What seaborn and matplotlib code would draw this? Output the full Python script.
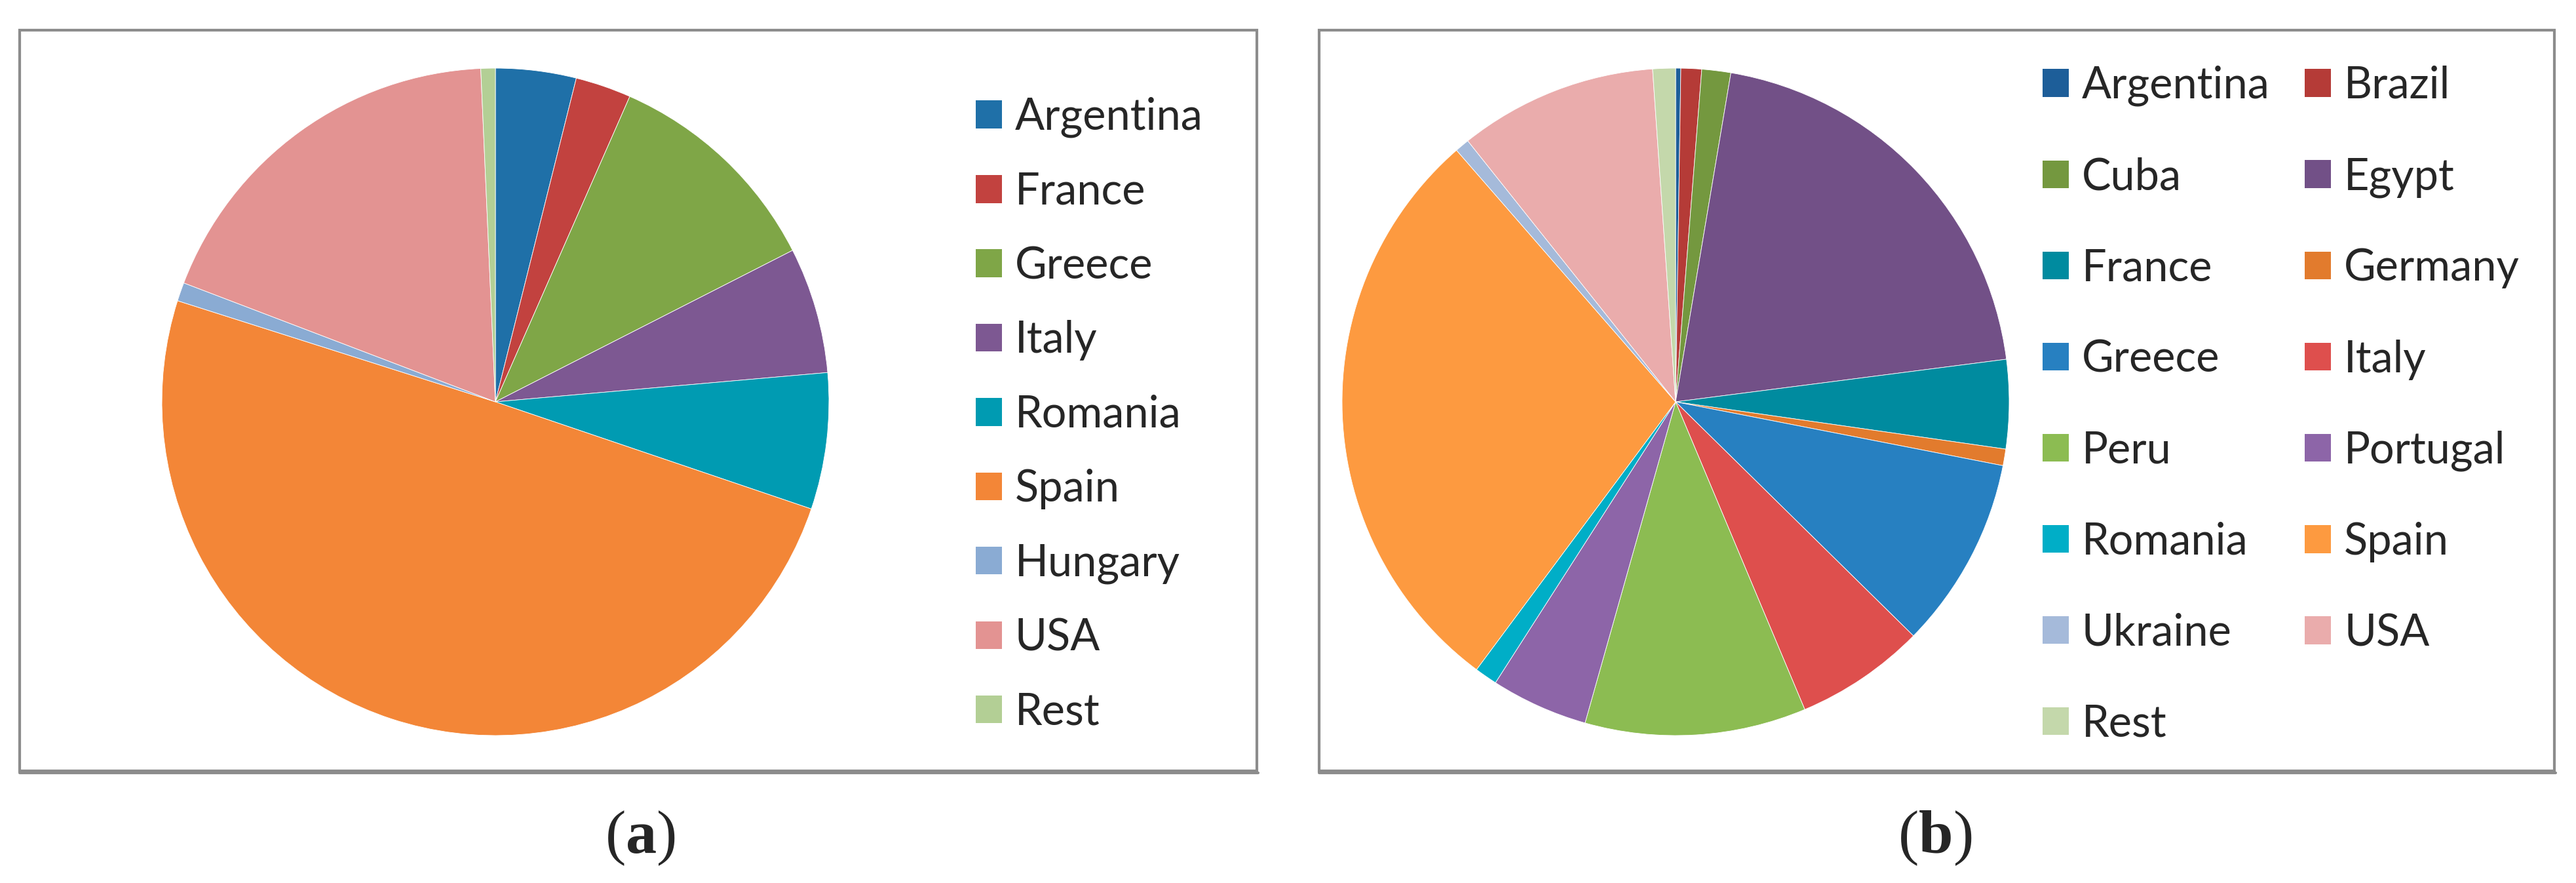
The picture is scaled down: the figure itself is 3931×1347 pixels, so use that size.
import matplotlib
matplotlib.use("Agg")
import matplotlib.pyplot as plt
import seaborn as sns
from matplotlib.lines import Line2D
from matplotlib.patches import Patch, Rectangle

# panel (a)
labels_a = ["Argentina", "France", "Greece", "Italy", "Romania", "Spain", "Hungary", "USA", "Rest"]
values_a = [3.9, 2.7, 10.9, 6.1, 6.6, 49.7, 0.9, 18.5, 0.7]
colors_a = ["#1F70A8", "#C2423F", "#7FA647", "#7D5892", "#009BB2", "#F38637", "#8AABD3", "#E39392", "#B3CF95"]

# panel (b)
labels_b = ["Argentina", "Brazil", "Cuba", "Egypt", "France", "Germany", "Greece", "Italy",
            "Peru", "Portugal", "Romania", "Spain", "Ukraine", "USA", "Rest"]
values_b = [0.25, 1.0, 1.4, 20.3, 4.3, 0.8, 9.3, 6.3, 10.7, 4.7, 1.1, 28.4, 0.7, 9.6, 1.1]
colors_b = ["#1D5E99", "#B53B37", "#74983F", "#725087", "#008B9F", "#E27B2D", "#2780C1", "#DE4F4D",
            "#8CBC52", "#8D65A8", "#00AEC7", "#FD9A40", "#A5BADA", "#EAACAC", "#C4D8AB"]

sns.set_style("white")
plt.rcParams["font.family"] = ["Lato", "DejaVu Sans"]
plt.rcParams["mathtext.fontset"] = "custom"
plt.rcParams["mathtext.rm"] = "Liberation Serif"
plt.rcParams["mathtext.bf"] = "Liberation Serif:bold"

W, H = 3931, 1347
fig = plt.figure(figsize=(W / 100, H / 100), dpi=100)


def fx(px):
    return px / W


def fy(py):
    return 1 - py / H


# panel frames, with a slightly heavier bottom edge like the original
for x0, x1 in [(30, 1918), (2013, 3898)]:
    fig.patches.append(Rectangle((fx(x0), fy(1176)), fx(x1 - x0), (1176 - 46) / H,
                                 transform=fig.transFigure, fill=False,
                                 edgecolor="#8C8C8C", linewidth=3))
    fig.lines.append(Line2D([fx(x0), fx(x1 + 2)], [fy(1179), fy(1179)],
                            transform=fig.transFigure, color="#8C8C8C", linewidth=3))


def draw_pie(cx, cy, r, values, colors):
    ax = fig.add_axes([fx(cx - r), fy(cy + r), 2 * r / W, 2 * r / H])
    ax.pie(values, colors=sns.color_palette(colors), startangle=90, counterclock=False,
           wedgeprops=dict(edgecolor="white", linewidth=0.6))
    ax.set_xlim(-1, 1)
    ax.set_ylim(-1, 1)
    ax.set_axis_off()
    return ax


draw_pie(756, 613, 509, values_a, colors_a)
draw_pie(2557, 613, 509, values_b, colors_b)

handles_a = [Patch(facecolor=c, edgecolor="none") for c in colors_a]
fig.legend(handles_a, labels_a, loc="upper left", bbox_to_anchor=(fx(1489), fy(148)),
           frameon=False, fontsize=48, handlelength=0.6, handleheight=0.6,
           handletextpad=0.3, labelspacing=0.77, borderpad=0, borderaxespad=0)

# legend (b) reads row by row: reorder for matplotlib's column-first filling
order_b = list(range(0, len(labels_b), 2)) + list(range(1, len(labels_b), 2))
handles_b = [Patch(facecolor=colors_b[i], edgecolor="none") for i in order_b]
fig.legend(handles_b, [labels_b[i] for i in order_b], loc="upper left",
           bbox_to_anchor=(fx(3117), fy(100)), ncol=2, frameon=False, fontsize=48,
           handlelength=0.6, handleheight=0.6, handletextpad=0.3, labelspacing=1.155,
           columnspacing=0.8, borderpad=0, borderaxespad=0)

fig.text(fx(977), fy(1279), r"($\mathbf{a}$)", ha="center", va="center", fontsize=68,
         family="Liberation Serif")
fig.text(fx(2953), fy(1279), r"($\mathbf{b}$)", ha="center", va="center", fontsize=68,
         family="Liberation Serif")

fig.savefig("out.png", dpi=100, facecolor="white")
